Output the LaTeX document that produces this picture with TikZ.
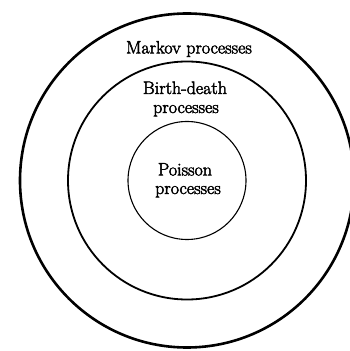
\documentclass[tikz,border=0pt]{standalone}
\usepackage{fontspec}
\usepackage{tikz}

\newfontfamily\lblfont{Latin Modern Roman}[FakeBold=2.5]
\tikzset{lbl/.style={font=\fontsize{18}{21}\lblfont, anchor=base, inner sep=0pt}}

\begin{document}
\begin{tikzpicture}[x=1pt,y=1pt]
	%\draw[help lines] (0,0) grid[step=50] (350,351);
	\useasboundingbox (0,0) rectangle (350,351);
	\clip (0,0) rectangle (350,351);
	\draw[line width=2.6pt] (187,170.5) circle [radius=167];
	\draw[line width=1.8pt] (187,170.5) circle [radius=119];
	\draw[line width=1.1pt] (187,170.5) circle [radius=59];
	\node[lbl] (markov) at (189,297.5) {Markov processes};
	\node[lbl] (birth) at (185,257) {Birth-death};
	\node[lbl] (birthb) at (186,238) {processes};
	\node[lbl] (poisson) at (185,175.5) {Poisson};
	\node[lbl] (poissonb) at (188,157) {processes};
\end{tikzpicture}
\end{document}
